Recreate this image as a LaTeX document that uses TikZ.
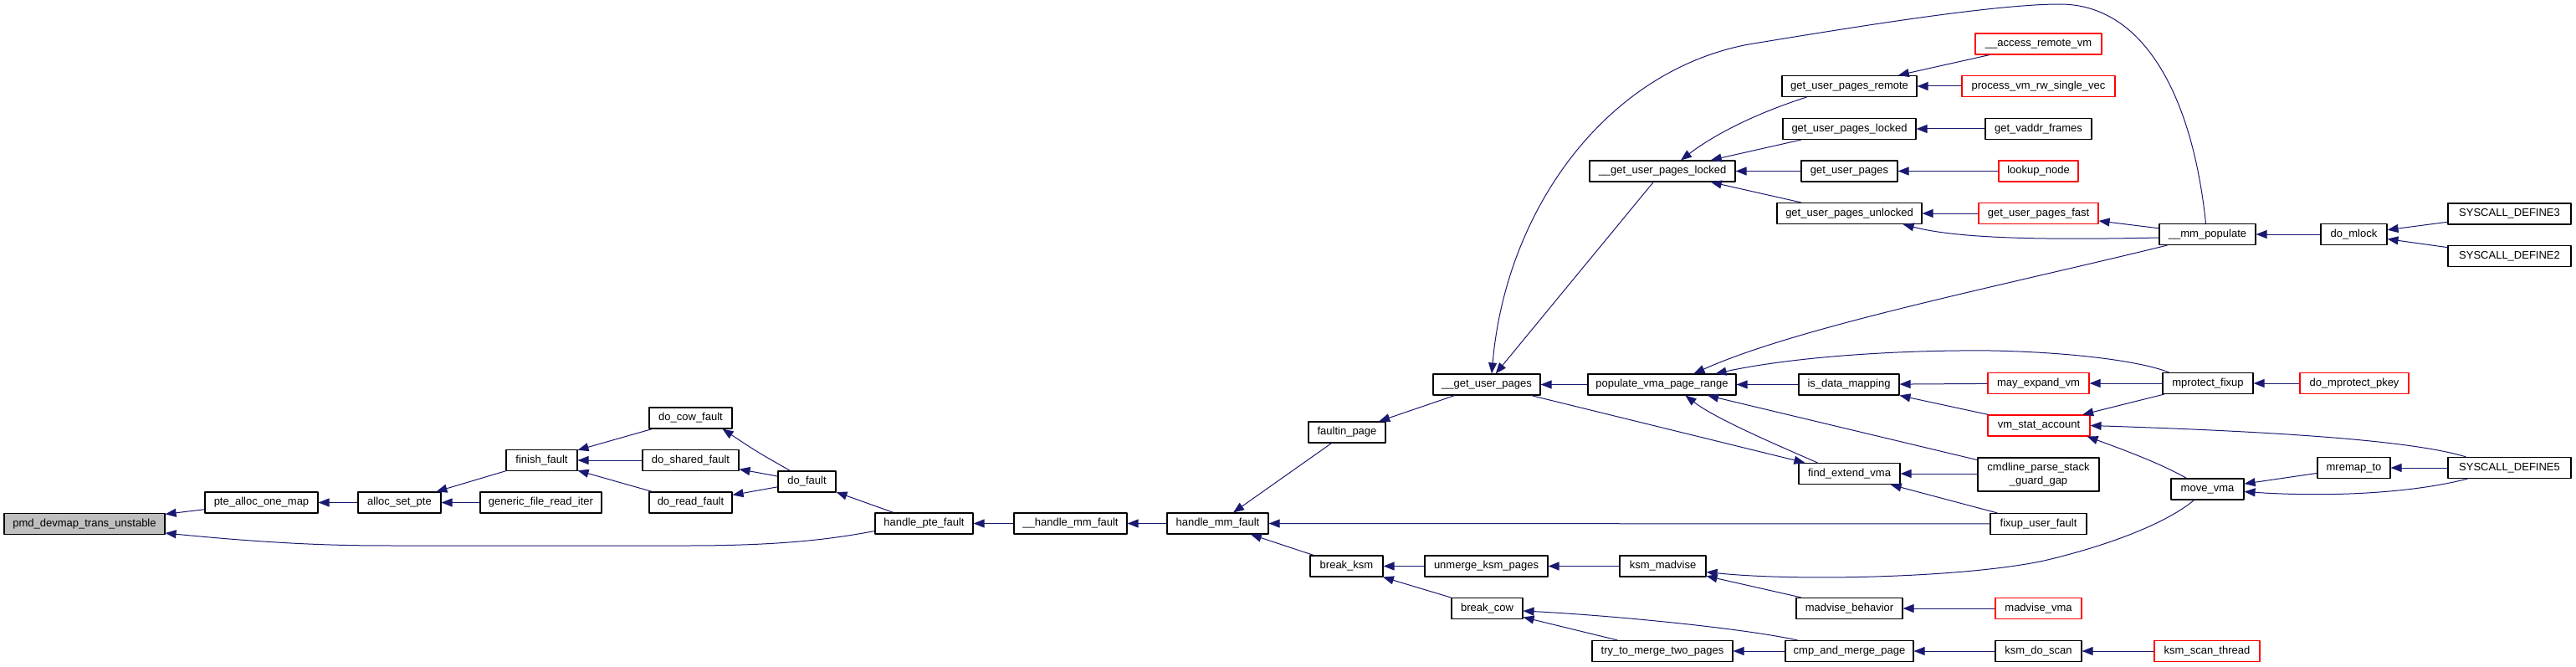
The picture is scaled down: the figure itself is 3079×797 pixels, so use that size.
\documentclass[tikz,border=0pt]{standalone}
\usepackage{fontspec}
\setmainfont{Liberation Sans}
\usetikzlibrary{arrows.meta}
\definecolor{edgeblue}{HTML}{191970}
\definecolor{boxgray}{HTML}{BFBFBF}
\begin{document}
\begin{tikzpicture}[x=1pt, y=-1pt, font=\fontsize{13}{15}\selectfont, line join=round, >={Triangle[length=13pt,width=10pt]},
	fn/.style={draw=black, line width=1.1pt, fill=white, minimum height=25pt, inner xsep=2pt, inner ysep=0pt, text height=9.5pt, text depth=3pt},
	hot/.style={fn, draw=red},
	call/.style={draw=edgeblue, line width=1pt, <-}]
	\useasboundingbox (0,0) rectangle (3079,797);
	%\draw[color=gray!50,dashed] (0,0) grid[step=100] (3079,797);
	% left part
	\node[fn, fill=boxgray, minimum width=192pt] (pmd) at (101,626) {pmd\_devmap\_trans\_unstable};
	\node[fn, minimum width=135pt] (ptemap) at (312.5,600.5) {pte\_alloc\_one\_map};
	\node[fn, minimum width=99pt] (allocpte) at (477.5,600.5) {alloc\_set\_pte};
	\node[fn, minimum width=145pt] (generic) at (646.5,600.5) {generic\_file\_read\_iter};
	\node[fn, minimum width=85pt] (finish) at (647.5,550) {finish\_fault};
	\node[fn, minimum width=99pt] (dcow) at (825.5,499.5) {do\_cow\_fault};
	\node[fn, minimum width=115pt] (dshared) at (825.5,550) {do\_shared\_fault};
	\node[fn, minimum width=99pt] (dread) at (825.5,600.5) {do\_read\_fault};
	\node[fn, minimum width=69pt] (dofault) at (964.5,575.5) {do\_fault};
	\node[fn, minimum width=117pt] (hpte) at (1104.5,625.5) {handle\_pte\_fault};
	\node[fn, minimum width=135pt] (hmmf) at (1279.5,625.5) {\_\_handle\_mm\_fault};
	\node[fn, minimum width=121pt] (hmm) at (1455.5,625.5) {handle\_mm\_fault};
	\node[fn, minimum width=92pt] (faultin) at (1610,516.5) {faultin\_page};
	\node[fn, minimum width=87pt] (bksm) at (1609.5,676.5) {break\_ksm};
	% middle part
	\node[fn, minimum width=128pt] (gup) at (1777,459.5) {\_\_get\_user\_pages};
	\node[fn, minimum width=177pt] (pvpr) at (1986.5,459.5) {populate\_vma\_page\_range};
	\node[fn, minimum width=120pt] (isdata) at (2210,459.5) {is\_data\_mapping};
	\node[fn, minimum width=121pt] (fev) at (2210.5,566) {find\_extend\_vma};
	\node[fn, minimum width=147pt] (unmerge) at (1776.5,676.5) {unmerge\_ksm\_pages};
	\node[fn, minimum width=103pt] (ksmm) at (1987.5,676.5) {ksm\_madvise};
	\node[fn, minimum width=85pt] (bcow) at (1777.5,727) {break\_cow};
	\node[fn, minimum width=127pt] (madvb) at (2210.5,727) {madvise\_behavior};
	\node[fn, minimum width=168pt] (try) at (1987,778) {try\_to\_merge\_two\_pages};
	\node[fn, minimum width=153pt] (cmp) at (2210.5,778) {cmp\_and\_merge\_page};
	\node[fn, minimum width=161pt] (remote) at (2210.5,103) {get\_user\_pages\_remote};
	\node[fn, minimum width=159pt] (guplocked) at (2210.5,154) {get\_user\_pages\_locked};
	\node[fn, minimum width=174pt] (gupl) at (1987,204.5) {\_\_get\_user\_pages\_locked};
	\node[fn, minimum width=115pt] (gupages) at (2210.5,204.5) {get\_user\_pages};
	\node[fn, minimum width=173pt] (gupu) at (2210.5,255) {get\_user\_pages\_unlocked};
	% right part
	\node[hot, minimum width=151pt] (access) at (2436.5,52.5) {\_\_access\_remote\_vm};
	\node[hot, minimum width=183pt] (pvm) at (2436.5,103) {process\_vm\_rw\_single\_vec};
	\node[fn, minimum width=127pt] (vaddr) at (2436.5,154) {get\_vaddr\_frames};
	\node[hot, minimum width=95pt] (lookup) at (2436.5,204.5) {lookup\_node};
	\node[hot, minimum width=143pt] (gupfast) at (2436.5,255) {get\_user\_pages\_fast};
	\node[fn, minimum width=115pt] (mmpop) at (2638.5,280) {\_\_mm\_populate};
	\node[fn, minimum width=79pt] (mlock) at (2813.5,280) {do\_mlock};
	\node[fn, minimum width=147pt] (systhree) at (2999.5,255.5) {SYSCALL\_DEFINE3};
	\node[fn, minimum width=147pt] (systwo) at (2999.5,306) {SYSCALL\_DEFINE2};
	\node[hot, minimum width=121pt] (mayexp) at (2436.5,458) {may\_expand\_vm};
	\node[fn, minimum width=108pt] (mprot) at (2639,458) {mprotect\_fixup};
	\node[hot, minimum width=130pt] (dmpk) at (2814,458) {do\_mprotect\_pkey};
	\node[hot, minimum width=122pt] (vmstat) at (2437,508.5) {vm\_stat\_account};
	\node[fn, minimum width=145pt, minimum height=40pt, align=center, text height={}, text depth={}, font=\fontsize{13}{15.5}\selectfont] (cmdline) at (2436.5,567) {cmdline\_parse\_stack\\\_guard\_gap};
	\node[fn, minimum width=115pt] (fixup) at (2436.5,626) {fixup\_user\_fault};
	\node[fn, minimum width=87pt] (movevma) at (2638.5,584.5) {move\_vma};
	\node[fn, minimum width=87pt] (mremap) at (2813.5,559) {mremap\_to};
	\node[fn, minimum width=147pt] (sysfive) at (2999.5,559) {SYSCALL\_DEFINE5};
	\node[hot, minimum width=103pt] (madvvma) at (2436.5,727) {madvise\_vma};
	\node[fn, minimum width=103pt] (kdoscan) at (2436.5,778) {ksm\_do\_scan};
	\node[hot, minimum width=126pt] (kthread) at (2638,778) {ksm\_scan\_thread};
	% straight calls, arrow at the callee
	\draw[call] (pmd) -- (ptemap); \draw[call] (ptemap) -- (allocpte);
	\draw[call] (allocpte) -- (finish); \draw[call] (allocpte) -- (generic);
	\draw[call] (finish) -- (dcow); \draw[call] (finish) -- (dshared); \draw[call] (finish) -- (dread);
	\draw[call] (dshared) -- (dofault); \draw[call] (dread) -- (dofault);
	\draw[call] (dofault) -- (hpte); \draw[call] (hpte) -- (hmmf); \draw[call] (hmmf) -- (hmm);
	\draw[call] (hmm) -- (faultin); \draw[call] (hmm) -- (fixup); \draw[call] (hmm) -- (bksm);
	\draw[call] (faultin) -- (gup); \draw[call] (gup) -- (gupl); \draw[call] (gup) -- (pvpr);
	\draw[call] (fev) -- (gup);
	\draw[call] (gupl) -- (guplocked); \draw[call] (gupl) -- (gupages); \draw[call] (gupl) -- (gupu);
	\draw[call] (remote) -- (access); \draw[call] (remote) -- (pvm);
	\draw[call] (guplocked) -- (vaddr); \draw[call] (gupages) -- (lookup);
	\draw[call] (gupu) -- (gupfast); \draw[call] (gupfast) -- (mmpop);
	\draw[call] (pvpr) -- (isdata); \draw[call] (pvpr) -- (cmdline);
	\draw[call] (fev.east) -- (fev.east -| cmdline.west); \draw[call] (fev) -- (fixup);
	\draw[call] (isdata) -- (mayexp); \draw[call] (isdata) -- (vmstat);
	\draw[call] (mayexp) -- (mprot); \draw[call] (vmstat) -- (mprot); \draw[call] (mprot) -- (dmpk);
	\draw[call] (mmpop) -- (mlock); \draw[call] (mlock) -- (systhree); \draw[call] (mlock) -- (systwo);
	\draw[call] (movevma) -- (mremap); \draw[call] (mremap) -- (sysfive);
	\draw[call] (bksm) -- (unmerge); \draw[call] (bksm) -- (bcow);
	\draw[call] (unmerge) -- (ksmm); \draw[call] (ksmm) -- (madvb); \draw[call] (madvb) -- (madvvma);
	\draw[call] (bcow) -- (try); \draw[call] (try) -- (cmp);
	\draw[call] (cmp) -- (kdoscan); \draw[call] (kdoscan) -- (kthread);
	% curved calls
	\draw[call] ([yshift=-11pt]pmd.east) .. controls (350,652) and (420,652) .. (480,652) -- (820,652)
		.. controls (930,652) and (990,645) .. ([yshift=-9pt]hpte.west);
	\draw[call] ([xshift=-12pt]dcow.south east) .. controls (905,540) .. ([xshift=-20pt]dofault.north);
	\draw[call] ([xshift=6pt]gup.north) .. controls (1800,250) and (1920,85) .. (2090,53)
		.. controls (2200,35) and (2380,5) .. (2462,5) .. controls (2560,5) and (2620,110) .. ([xshift=-2pt]mmpop.north);
	\draw[call] ([xshift=-23pt]gupu.south east) .. controls (2340,285) and (2440,287) .. ([yshift=-4pt]mmpop.west);
	\draw[call] ([xshift=38pt]pvpr.north) .. controls (2150,390) and (2400,340) .. ([xshift=10pt]mmpop.south west);
	\draw[call] ([xshift=64pt]pvpr.north) .. controls (2150,425) and (2280,418) .. (2380,419)
		.. controls (2480,421) and (2560,432) .. ([xshift=8pt]mprot.north west);
	\draw[call] ([xshift=28pt]pvpr.south) .. controls (2050,500) and (2120,530) .. ([xshift=-38pt]fev.north);
	\draw[call] (vmstat.east) .. controls (2700,515) and (2880,525) .. ([xshift=-52pt]sysfive.north);
	\draw[call] ([yshift=-3pt]movevma.east) .. controls (2780,594) and (2880,590) .. ([xshift=-50pt]sysfive.south);
	\draw[call] ([xshift=-4pt]vmstat.south east) .. controls (2540,538) and (2585,555) .. ([xshift=-25pt]movevma.north);
	\draw[call] ([yshift=-7pt]ksmm.east) .. controls (2150,695) and (2350,690) .. (2443,670)
		.. controls (2520,652) and (2590,625) .. ([xshift=-16pt]movevma.south);
	\draw[call] ([yshift=-3pt]bcow.east) .. controls (1920,735) and (2080,750) .. ([xshift=15pt]cmp.north west);
	\draw[call] ([xshift=22pt]gupl.north) .. controls (2050,160) and (2100,135) .. ([xshift=-51pt]remote.south);
\end{tikzpicture}
\end{document}
